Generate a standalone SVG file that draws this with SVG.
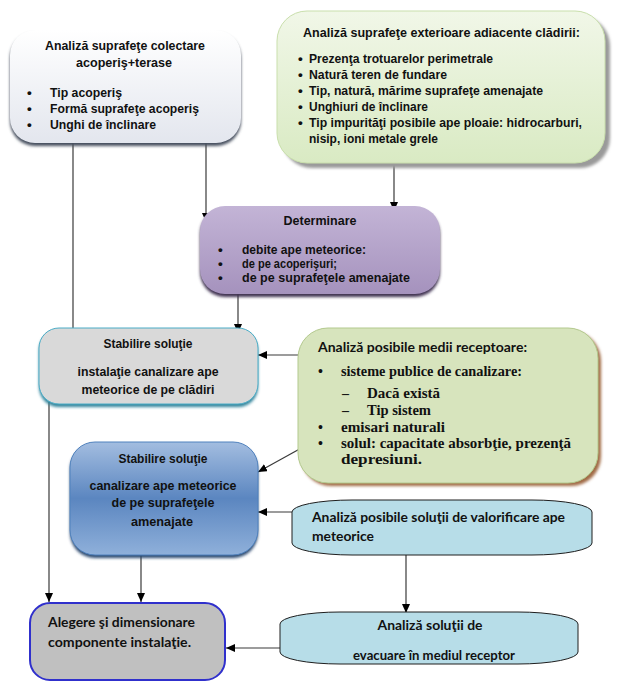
<svg xmlns="http://www.w3.org/2000/svg" width="619" height="686" viewBox="0 0 619 686">
<style>
.a{font-family:"Liberation Sans",Arial,sans-serif;font-weight:bold;font-size:13.5px;fill:#111}
.c{font-family:Lato,"Liberation Sans",sans-serif;font-weight:bold;font-size:14px;fill:#111}
.t{font-family:"Liberation Serif","Times New Roman",serif;font-weight:bold;font-size:14px;fill:#111}
.m{text-anchor:middle}
.con{stroke:#3a3a3a;stroke-width:1.2;fill:none;marker-end:url(#ah)}
</style>
<defs>
<marker id="ah" markerUnits="userSpaceOnUse" markerWidth="9" markerHeight="8" refX="9" refY="4" orient="auto"><path d="M0,0 L9,4 L0,8 z" fill="#000"/></marker>
<filter id="bl" x="-10%" y="-10%" width="120%" height="130%"><feGaussianBlur stdDeviation="1.5"/></filter>
<linearGradient id="g1" x1="0" y1="0" x2="0" y2="1"><stop offset="0" stop-color="#ffffff"/><stop offset="1" stop-color="#e3e6ee"/></linearGradient>
<linearGradient id="g2" x1="0" y1="0" x2="0" y2="1"><stop offset="0" stop-color="#f1f7e8"/><stop offset="1" stop-color="#d9eac3"/></linearGradient>
<linearGradient id="g3" x1="0" y1="0" x2="0" y2="1"><stop offset="0" stop-color="#c3b4d6"/><stop offset="1" stop-color="#a592bd"/></linearGradient>
<linearGradient id="g6" x1="0" y1="0" x2="0" y2="1"><stop offset="0" stop-color="#a3bde0"/><stop offset="0.5" stop-color="#5b86c0"/><stop offset="1" stop-color="#8fb0da"/></linearGradient>
<clipPath id="cp8"><rect x="280" y="612" width="298" height="51" rx="60" ry="12"/></clipPath>
</defs>

<g id="connectors">
<line class="con" x1="73" y1="143" x2="73" y2="340"/>
<line class="con" x1="206" y1="143" x2="206" y2="222"/>
<line class="con" x1="394" y1="163" x2="394" y2="211"/>
<line class="con" x1="238" y1="294" x2="238" y2="333"/>
<line class="con" x1="298" y1="355" x2="258" y2="355"/>
<line class="con" x1="305" y1="446" x2="258" y2="472"/>
<line class="con" x1="292" y1="512" x2="258" y2="512"/>
<line class="con" x1="406" y1="555" x2="406" y2="613"/>
<line class="con" x1="49" y1="397" x2="49" y2="602"/>
<line class="con" x1="141" y1="555" x2="141" y2="602"/>
<line class="con" x1="280" y1="648" x2="226" y2="648"/>
</g>

<g id="n1">
<rect x="10" y="33" width="231" height="113" rx="25" fill="#46505f" filter="url(#bl)"/>
<rect x="10" y="30" width="231" height="113" rx="25" fill="url(#g1)"/>
<text class="a m" x="125" y="50" textLength="160" lengthAdjust="spacingAndGlyphs">Analiză suprafeţe colectare</text>
<text class="a m" x="124" y="67" textLength="96" lengthAdjust="spacingAndGlyphs">acoperiş+terase</text>
<text class="a" x="27" y="97">•</text><text class="a" x="50" y="97" textLength="72" lengthAdjust="spacingAndGlyphs">Tip acoperiş</text>
<text class="a" x="27" y="113">•</text><text class="a" x="50" y="113" textLength="149" lengthAdjust="spacingAndGlyphs">Formă suprafeţe acoperiş</text>
<text class="a" x="27" y="129">•</text><text class="a" x="50" y="129" textLength="106" lengthAdjust="spacingAndGlyphs">Unghi de înclinare</text>
</g>

<g id="n2">
<rect x="282" y="16" width="328" height="152" rx="30" fill="#9a9a9a" filter="url(#bl)"/>
<rect x="277" y="11" width="328" height="152" rx="30" fill="url(#g2)" stroke="#c9dfac" stroke-width="1"/>
<text class="a" x="303" y="37" textLength="277" lengthAdjust="spacingAndGlyphs">Analiză suprafeţe exterioare adiacente clădirii:</text>
<text class="a" x="298" y="63">•</text><text class="a" x="309" y="63" textLength="184" lengthAdjust="spacingAndGlyphs">Prezenţa trotuarelor perimetrale</text>
<text class="a" x="298" y="79">•</text><text class="a" x="309" y="79" textLength="138" lengthAdjust="spacingAndGlyphs">Natură teren de fundare</text>
<text class="a" x="298" y="95">•</text><text class="a" x="309" y="95" textLength="234" lengthAdjust="spacingAndGlyphs">Tip, natură, mărime suprafeţe amenajate</text>
<text class="a" x="298" y="111">•</text><text class="a" x="309" y="111" textLength="119" lengthAdjust="spacingAndGlyphs">Unghiuri de înclinare</text>
<text class="a" x="298" y="127">•</text><text class="a" x="309" y="127" textLength="273" lengthAdjust="spacingAndGlyphs">Tip impurităţi posibile ape ploaie: hidrocarburi,</text>
<text class="a" x="309" y="143" textLength="129" lengthAdjust="spacingAndGlyphs">nisip,  ioni metale grele</text>
</g>

<g id="n3">
<rect x="200" y="209" width="240" height="88" rx="25" fill="#3f3151" filter="url(#bl)"/>
<rect x="200" y="206" width="240" height="88" rx="25" fill="url(#g3)"/>
<text class="a m" x="320" y="225" textLength="73" lengthAdjust="spacingAndGlyphs">Determinare</text>
<text class="a" x="218" y="254">•</text><text class="a" x="242" y="254" textLength="124" lengthAdjust="spacingAndGlyphs">debite ape meteorice:</text>
<text class="a" x="218" y="268">•</text><text class="a" x="242" y="268" textLength="95" lengthAdjust="spacingAndGlyphs">de pe acoperişuri;</text>
<text class="a" x="218" y="282">•</text><text class="a" x="242" y="282" textLength="168" lengthAdjust="spacingAndGlyphs">de pe suprafeţele amenajate</text>
</g>

<g id="n4">
<rect x="39" y="331" width="219" height="76" rx="20" fill="#31859c" filter="url(#bl)"/>
<rect x="39" y="328" width="219" height="76" rx="20" fill="#d9d9d9" stroke="#4bacc6" stroke-width="1"/>
<text class="a m" x="148" y="348" textLength="89" lengthAdjust="spacingAndGlyphs">Stabilire soluţie</text>
<text class="a m" x="148" y="376" textLength="141" lengthAdjust="spacingAndGlyphs">instalaţie canalizare ape</text>
<text class="a m" x="148" y="394" textLength="133" lengthAdjust="spacingAndGlyphs">meteorice de pe clădiri</text>
</g>

<g id="n5">
<rect x="301" y="331" width="300" height="155" rx="30" fill="#a06a45" filter="url(#bl)"/>
<rect x="298" y="328" width="300" height="155" rx="30" fill="#d7e4bd" stroke="#b3c98e" stroke-width="1"/>
<text class="c" x="318" y="352" textLength="209" lengthAdjust="spacingAndGlyphs">Analiză posibile medii receptoare:</text>
<text class="t" x="318" y="376">•</text><text class="t" x="341" y="376" textLength="181" lengthAdjust="spacingAndGlyphs">sisteme publice de canalizare:</text>
<text class="t" x="342" y="398">–</text><text class="t" x="367" y="398" textLength="73" lengthAdjust="spacingAndGlyphs">Dacă există</text>
<text class="t" x="342" y="415">–</text><text class="t" x="367" y="415" textLength="64" lengthAdjust="spacingAndGlyphs">Tip sistem</text>
<text class="t" x="318" y="432">•</text><text class="t" x="341" y="432" textLength="104" lengthAdjust="spacingAndGlyphs">emisari naturali</text>
<text class="t" x="318" y="448">•</text><text class="t" x="341" y="448" textLength="230" lengthAdjust="spacingAndGlyphs">solul: capacitate absorbţie, prezenţă</text>
<text class="t" x="341" y="464" textLength="81" lengthAdjust="spacingAndGlyphs">depresiuni.</text>
</g>

<g id="n6">
<rect x="70" y="445" width="188" height="113" rx="25" fill="#2c4a70" filter="url(#bl)"/>
<rect x="70" y="442" width="188" height="113" rx="25" fill="url(#g6)" stroke="#4f81bd" stroke-width="1"/>
<text class="a m" x="163" y="463" textLength="89" lengthAdjust="spacingAndGlyphs">Stabilire soluţie</text>
<text class="a m" x="163" y="490" textLength="147" lengthAdjust="spacingAndGlyphs">canalizare ape meteorice</text>
<text class="a m" x="163" y="507" textLength="103" lengthAdjust="spacingAndGlyphs">de pe suprafeţele</text>
<text class="a m" x="162" y="526" textLength="62" lengthAdjust="spacingAndGlyphs">amenajate</text>
</g>

<g id="n7">
<rect x="292" y="500" width="300" height="55" rx="60" ry="12" fill="#b7dde8" stroke="#1e1e1e" stroke-width="1"/>
<text class="c" x="312" y="522" textLength="253" lengthAdjust="spacingAndGlyphs">Analiză posibile soluţii de valorificare ape</text>
<text class="c" x="312" y="541" textLength="62" lengthAdjust="spacingAndGlyphs">meteorice</text>
</g>

<g id="n8">
<rect x="280" y="612" width="298" height="52" rx="60" ry="12" fill="#b7dde8" stroke="#1e1e1e" stroke-width="1"/>
<text class="c m" x="430" y="630" textLength="105" lengthAdjust="spacingAndGlyphs">Analiză soluţii de</text>
<g clip-path="url(#cp8)"><text class="c m" x="434" y="660" textLength="162" lengthAdjust="spacingAndGlyphs">evacuare în mediul receptor</text></g>
</g>

<g id="n9">
<rect x="30" y="603" width="195" height="77" rx="20" fill="#c0c0c0" stroke="#3030cc" stroke-width="2"/>
<text class="c" x="48" y="627" textLength="147" lengthAdjust="spacingAndGlyphs">Alegere şi dimensionare</text>
<text class="c" x="48" y="647" textLength="143" lengthAdjust="spacingAndGlyphs">componente instalaţie.</text>
</g>
</svg>
